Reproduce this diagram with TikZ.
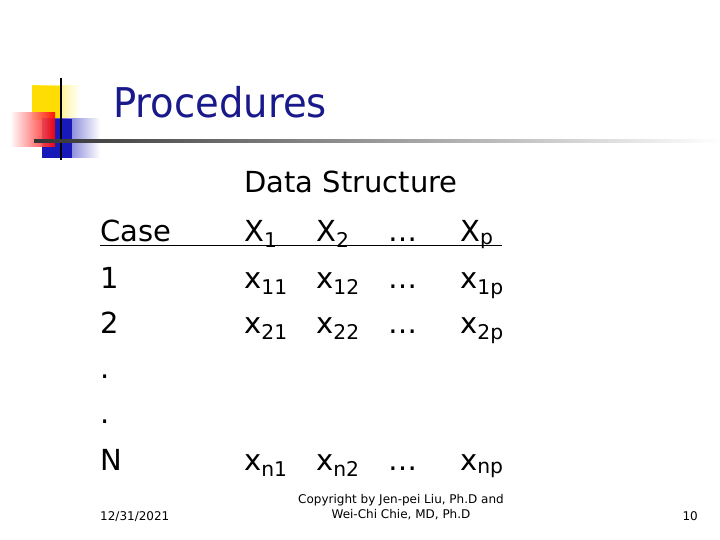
\documentclass[tikz,border=0pt]{standalone}
\usepackage{fontspec}
\setmainfont{DejaVu Sans}
\begin{document}
\begin{tikzpicture}[x=1pt,y=-1pt,
 body/.style={anchor=base west,inner sep=0pt,font=\fontsize{29}{30}\selectfont},
 foot/.style={inner sep=0pt,font=\fontsize{12}{15}\selectfont}]
\useasboundingbox (0,0) rectangle (720,540);
% logo
\shade[left color=yellow!80!orange, right color=white] (32,86) rectangle (80,120);
\fill[yellow!80!orange] (32,86) rectangle (62,120);
\shade[left color=blue!70!black!90, right color=white] (42,119) rectangle (100,158);
\fill[blue!70!black!90] (42,119) rectangle (72,158);
\shade[left color=white, right color=red,opacity=.9] (10,113) rectangle (55,147);
\draw[line width=2pt] (61,78) -- (61,160);
\shade[left color=black!80, right color=white] (34,140) rectangle (720,142.5);
\node[anchor=base west,inner sep=0pt,text=blue!50!black!90,font=\fontsize{41}{42}\selectfont,xscale=0.94] (t) at (113,118) {Procedures};
% table
\node[body] (ds) at (244,193) {Data Structure};
\node[body] (c) at (100,241) {Case};
\node[body] (x1) at (244,241) {X$_{\mathrm{1}}$};
\node[body] (x2) at (316,241) {X$_{\mathrm{2}}$};
\node[body] (xd) at (388,241) {…};
\node[body] (xp) at (460,241) {X$_{\mathrm{p}}$};
\draw[line width=0.8pt] (100,245) -- (502,245);
\node[body] (r1) at (100,288) {1};
\node[body] (a11) at (244,288) {x$_{\mathrm{11}}$};
\node[body] (a12) at (316,288) {x$_{\mathrm{12}}$};
\node[body] (a1d) at (388,288) {…};
\node[body] (a1p) at (460,288) {x$_{\mathrm{1p}}$};
\node[body] (r2) at (100,333) {2};
\node[body] (a21) at (244,333) {x$_{\mathrm{21}}$};
\node[body] (a22) at (316,333) {x$_{\mathrm{22}}$};
\node[body] (a2d) at (388,333) {…};
\node[body] (a2p) at (460,333) {x$_{\mathrm{2p}}$};
\node[body] (d1) at (100,378) {.};
\node[body] (d2) at (100,423) {.};
\node[body] (rn) at (100,470) {N};
\node[body] (an1) at (244,470) {x$_{\mathrm{n1}}$};
\node[body] (an2) at (316,470) {x$_{\mathrm{n2}}$};
\node[body] (and) at (388,470) {…};
\node[body] (anp) at (460,470) {x$_{\mathrm{np}}$};
% footer
\node[foot,anchor=base west] (date) at (100,520) {12/31/2021};
\node[foot,align=center] (copy) at (401,507) {Copyright by Jen-pei Liu, Ph.D and\\Wei-Chi Chie, MD, Ph.D};
\node[foot,anchor=base east] (pg) at (698,520) {10};
\end{tikzpicture}
\end{document}
